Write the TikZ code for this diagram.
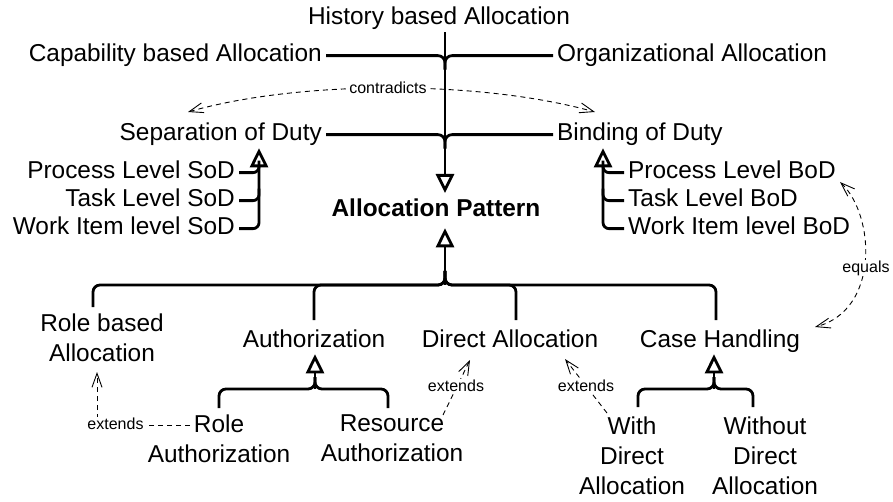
\documentclass[tikz,border=0pt]{standalone}
\usepackage{fontspec}
\setmainfont{Liberation Sans}
\usetikzlibrary{arrows.meta}
\tikzset{
  lbl/.style={font=\fontsize{24.4}{30}\selectfont, inner xsep=4pt, inner ysep=2pt, text height=17.8pt, text depth=5.1pt},
  mlbl/.style={font=\fontsize{24.4}{30}\selectfont, inner xsep=4pt, inner ysep=2pt, align=center, anchor=north},
  small/.style={font=\fontsize{16}{19}\selectfont, fill=white, inner sep=1pt},
  conn/.style={line width=2.8pt, rounded corners=7pt},
  gen/.style={conn, -{Triangle[open, length=19pt, width=18pt]}},
  dep/.style={line width=0.9pt, dash pattern=on 5pt off 4pt},
  barbend/.style={-{Straight Barb[length=14pt, width=10pt]}},
  barbboth/.style={{Straight Barb[length=14pt, width=10pt]}-{Straight Barb[length=14pt, width=10pt]}}
}
\begin{document}
\begin{tikzpicture}[x=1pt, y=-1pt]
\useasboundingbox (0,0) rectangle (893,502);
% trunk coordinates
\coordinate (T) at (445,0);
\coordinate (S1) at (259,0);
\coordinate (S2) at (603,0);
\coordinate (B) at (445,285);
\coordinate (B2) at (315,389);
\coordinate (B3) at (714,389);

% top nodes
\node[lbl, anchor=base] (hist) at (439,25) {History based Allocation};
\node[lbl, anchor=base east] (cap) at (326,62) {Capability based Allocation};
\node[lbl, anchor=base west] (org) at (553,62) {Organizational Allocation};
\node[lbl, anchor=base east] (sod) at (326,141) {Separation of Duty};
\node[lbl, anchor=base west] (bod) at (553,141) {Binding of Duty};
\node[lbl, anchor=base east] (psod) at (239,179) {Process Level SoD};
\node[lbl, anchor=base east] (tsod) at (239,207) {Task Level SoD};
\node[lbl, anchor=base east] (wsod) at (239,235) {Work Item level SoD};
\node[lbl, anchor=base west] (pbod) at (624,179) {Process Level BoD};
\node[lbl, anchor=base west] (tbod) at (624,207) {Task Level BoD};
\node[lbl, anchor=base west] (wbod) at (624,235) {Work Item level BoD};
\node[lbl, anchor=base, font=\fontsize{24.4}{30}\selectfont\bfseries, inner ysep=6pt] (ap) at (436,217) {Allocation Pattern};

% middle nodes
\node[mlbl] (rba) at (102,312) {Role based\\Allocation};
\node[lbl, anchor=base] (auth) at (314,347) {Authorization};
\node[lbl, anchor=base] (da) at (510,347) {Direct Allocation};
\node[lbl, anchor=base] (ch) at (720,347) {Case Handling};

% bottom nodes
\node[mlbl] (ra) at (219,413) {Role\\Authorization};
\node[mlbl] (rsa) at (392,413) {Resource\\Authorization};
\node[mlbl] (wda) at (632,415) {With\\Direct\\Allocation};
\node[mlbl] (woda) at (765,415) {Without\\Direct\\Allocation};

% contradicts (drawn first, trunk on top)
\coordinate (c1) at (188,112);
\coordinate (c2) at (595,112);
\draw[dep, barbboth] (c1) .. controls (300,80) and (480,80) .. (c2);
\node[small] (contra) at (388,88) {contradicts};

% trunk and top branches
\draw[gen] (hist.south -| T) -- (ap.north -| T);
\draw[conn] (cap.east) -- (cap.east -| T) -- ++(0,14);
\draw[conn] (org.west) -- (org.west -| T) -- ++(0,14);
\draw[conn] (sod.east) -- (sod.east -| T) -- ++(0,14);
\draw[conn] (bod.west) -- (bod.west -| T) -- ++(0,14);

% SoD subtree
\draw[gen, rounded corners=6pt] (wsod.east) -- (wsod.east -| S1) -- (sod.south -| S1);
\draw[conn, rounded corners=6pt] (psod.east) -- (psod.east -| S1) -- ++(0,-12);
\draw[conn, rounded corners=6pt] (tsod.east) -- (tsod.east -| S1) -- ++(0,-12);
% BoD subtree
\draw[gen, rounded corners=6pt] (wbod.west) -- (wbod.west -| S2) -- (bod.south -| S2);
\draw[conn, rounded corners=6pt] (pbod.west) -- (pbod.west -| S2) -- ++(0,-12);
\draw[conn, rounded corners=6pt] (tbod.west) -- (tbod.west -| S2) -- ++(0,-12);

% main generalisation bar
\coordinate (d1) at ([xshift=-9pt]rba.north);
\coordinate (d3) at ([xshift=6pt]da.north);
\coordinate (d4) at ([xshift=-4pt]ch.north);
\draw[conn, shorten <=5pt] (d1) -- (d1 |- B) -- (B) -- ++(0,-14);
\draw[conn, shorten <=7pt] (auth.north) -- (auth.north |- B) -- (B) -- ++(0,-14);
\draw[conn, shorten <=7pt] (d3) -- (d3 |- B) -- (B) -- ++(0,-14);
\draw[conn, shorten <=7pt] (d4) -- (d4 |- B) -- (B) -- ++(0,-14);
\draw[gen] (B) -- (ap.south -| B);

% Authorization subtree
\coordinate (d6) at ([xshift=-4pt]rsa.north);
\draw[conn, shorten <=5pt] (ra.north) -- (ra.north |- B2) -- (B2) -- ++(0,-12);
\draw[conn, shorten <=5pt] (d6) -- (d6 |- B2) -- (B2) -- ++(0,-12);
\draw[gen] (B2) -- (auth.south -| B2);

% Case Handling subtree
\coordinate (d7) at ([xshift=6pt]wda.north);
\coordinate (d8) at ([xshift=-12pt]woda.north);
\draw[conn, shorten <=8pt] (d7) -- (d7 |- B3) -- (B3) -- ++(0,-12);
\draw[conn, shorten <=8pt] (d8) -- (d8 |- B3) -- (B3) -- ++(0,-12);
\draw[gen] (B3) -- (ch.south -| B3);

% extends 1
\coordinate (e1a) at (190,425);
\coordinate (e1c) at (97,425);
\coordinate (e1b) at (97,372);
\draw[dep, barbend] (e1a) -- (e1c) -- (e1b);
\node[small] (x1) at (115.5,424) {extends};
% extends 2
\coordinate (e2a) at (443,415);
\coordinate (e2b) at (470,360);
\draw[dep, barbend] (e2a) -- (e2b);
\node[small] (x2) at (456,386) {extends};
% extends 3
\coordinate (e3a) at (607,413);
\coordinate (e3b) at (565,359);
\draw[dep, barbend] (e3a) -- (e3b);
\node[small] (x3) at (586,386) {extends};

% equals
\coordinate (q1) at (840,182);
\coordinate (q2) at (815,327);
\draw[dep, barbboth] (q1) .. controls (875,215) and (880,310) .. (q2);
\node[small] (eq) at (866,268) {equals};
\end{tikzpicture}
\end{document}
